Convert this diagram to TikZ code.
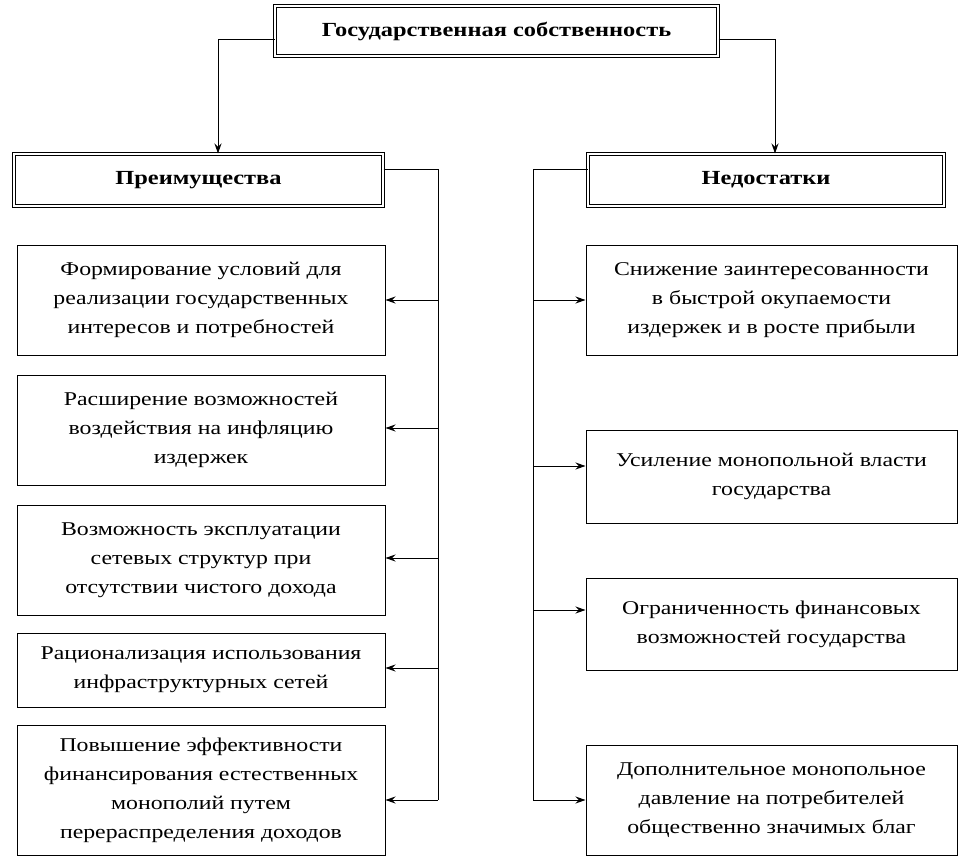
\documentclass[tikz,border=0pt]{standalone}
\usepackage{fontspec}
\setmainfont{Liberation Serif}
\newfontfamily\widefont[FakeStretch=1.22]{Liberation Serif}
\usetikzlibrary{arrows.meta}
\tikzset{
  box/.style={draw,line width=1pt,inner sep=0pt,align=center,font=\widefont\fontsize{19.5}{29}\selectfont},
  hdr/.style={draw,line width=1pt,double,double distance=2pt,inner sep=0pt,align=center,font=\widefont\fontsize{20}{24}\selectfont\bfseries},
  con/.style={line width=1pt},
  arr/.style={line width=1pt,-{Stealth[length=10pt,width=7pt]}}
}
\begin{document}
\begin{tikzpicture}[x=1pt,y=-1pt]
\useasboundingbox (0,0) rectangle (964,864);
\node[hdr,minimum width=443pt,minimum height=50pt] (top) at (496.5,31.5) {Государственная собственность};
\node[hdr,minimum width=369pt,minimum height=52pt] (adv) at (198.5,180) {Преимущества};
\node[hdr,minimum width=356pt,minimum height=52pt] (dis) at (766,180) {Недостатки};
\draw[arr] (top.west |- 0,40) -| (adv.north -| 218,0);
\draw[arr] (top.east |- 0,40) -| (dis.north -| 775,0);
% left boxes
\node[box,minimum width=368pt,minimum height=110pt] (a1) at (201,300) {Формирование условий для\\реализации государственных\\интересов и потребностей};
\node[box,minimum width=368pt,minimum height=110pt] (a2) at (201,430) {Расширение возможностей\\воздействия на инфляцию\\издержек};
\node[box,minimum width=368pt,minimum height=110pt] (a3) at (201,560) {Возможность эксплуатации\\сетевых структур при\\отсутствии чистого дохода};
\node[box,minimum width=368pt,minimum height=74pt] (a4) at (201,670) {Рационализация использования\\инфраструктурных сетей};
\node[box,minimum width=368pt,minimum height=130pt] (a5) at (201,790) {Повышение эффективности\\финансирования естественных\\монополий путем\\перераспределения доходов};
\coordinate (lt) at (438,170);
\coordinate (lb) at (438,800);
\draw[con] (adv.east |- lt) -- (lt) -- (lb);
\foreach \n/\y in {a1/300,a2/428,a3/558,a4/668,a5/800}
  \draw[arr] (438,\y) -- (\n.east |- 0,\y);
% right boxes
\node[box,minimum width=371pt,minimum height=110pt] (d1) at (771.5,300) {Снижение заинтересованности\\в быстрой окупаемости\\издержек и в росте прибыли};
\node[box,minimum width=371pt,minimum height=93pt] (d2) at (771.5,476.5) {Усиление монопольной власти\\государства};
\node[box,minimum width=371pt,minimum height=92pt] (d3) at (771.5,624) {Ограниченность финансовых\\возможностей государства};
\node[box,minimum width=371pt,minimum height=110pt] (d4) at (771.5,800) {Дополнительное монопольное\\давление на потребителей\\общественно значимых благ};
\coordinate (rt) at (533,170);
\coordinate (rb) at (533,800);
\draw[con] (dis.west |- rt) -- (rt) -- (rb);
\foreach \n/\y in {d1/300,d2/466,d3/610,d4/800}
  \draw[arr] (533,\y) -- (\n.west |- 0,\y);
\end{tikzpicture}
\end{document}
